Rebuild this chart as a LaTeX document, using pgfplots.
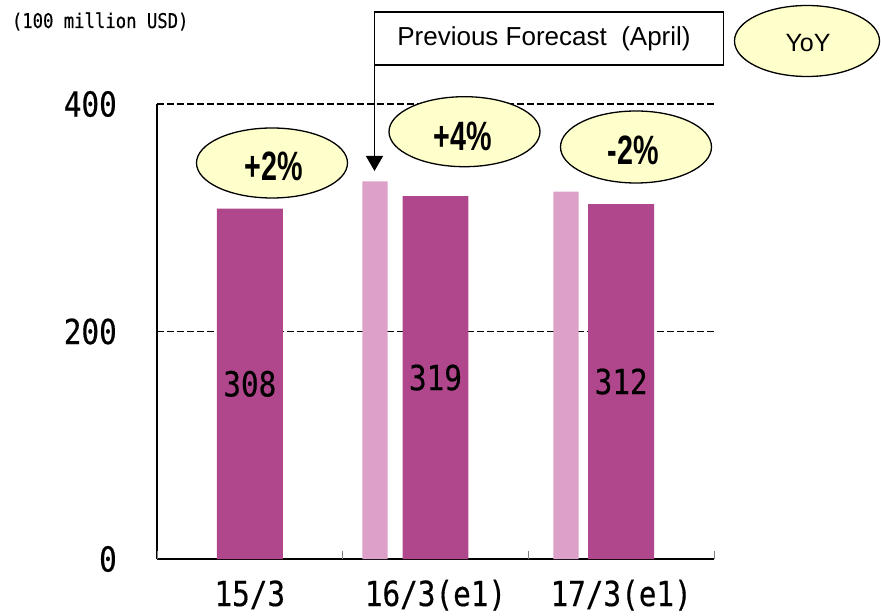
\documentclass[border=0pt]{standalone}
\usepackage{pgfplots}
\pgfplotsset{compat=1.18}
\usetikzlibrary{arrows.meta}
\usepackage{fontspec}
\setmainfont{Liberation Sans}
\newfontfamily\gfont[FakeStretch=0.85,FakeBold=0.4]{DejaVu Sans Mono}
\newfontfamily\pfont[FakeStretch=0.7]{Liberation Sans}
\definecolor{darkbar}{RGB}{176,71,140}
\definecolor{lightbar}{RGB}{221,160,200}
\definecolor{ellfill}{RGB}{255,255,204}
\newcommand{\gbig}{\gfont\fontsize{34.5bp}{40bp}\selectfont}
\newcommand{\pct}{\pfont\bfseries\fontsize{41bp}{48bp}\selectfont}
\begin{document}
\begin{tikzpicture}
\begin{axis}[
  scale only axis, width=557bp, height=455bp,
  xmin=-0.5, xmax=2.5, ymin=0, ymax=400,
  axis x line=bottom, axis y line=left,
  axis line style={-, line width=1.2bp, black},
  xtick={0,1,2}, xticklabels={15/3,16/3(e1),17/3(e1)},
  major tick length=0pt,
  xticklabel style={font=\gbig, anchor=base, yshift=-47bp, inner sep=0pt},
  ytick={0,200,400}, yticklabels={0,200,400},
  yticklabel style={font=\gbig, anchor=east, xshift=-40bp, inner sep=0pt},
  ymajorgrids, grid style={black, line width=1.6bp, dash pattern=on 7bp off 3bp},
  extra x ticks={-0.5,0.5,1.5,2.5}, extra x tick labels={},
  extra x tick style={major tick length=8bp, tick align=inside, xmajorgrids=false, tick style={gray, line width=0.8bp}},
  clip=false,
]
\addplot[ybar, bar width=0.355, bar shift=0pt, fill=darkbar, draw=none] coordinates {(0,308) (1,319) (2,312)};
\addplot[ybar, bar width=0.135, bar shift=0pt, fill=lightbar, draw=none] coordinates {(0.674,332) (1.703,323)};
\node[font=\gbig, inner sep=0pt] at (axis cs:0,154) {308};
\node[font=\gbig, inner sep=0pt] at (axis cs:1,159.5) {319};
\node[font=\gbig, inner sep=0pt] at (axis cs:2,156) {312};
\end{axis}
% annotations (bp relative to axis origin)
\node[anchor=base west, inner sep=0pt, font=\gfont\fontsize{20.3bp}{24bp}\selectfont] at (-145.3bp,531bp) {(100 million USD)};
\draw[line width=1.3bp, fill=ellfill] (115bp,396bp) ellipse [x radius=75.5bp, y radius=35bp];
\node[font=\pct, inner sep=0pt] at (117bp,393bp) {+2\%};
\draw[line width=1.3bp, fill=ellfill] (307.5bp,427.3bp) ellipse [x radius=75.5bp, y radius=35bp];
\node[font=\pct, inner sep=0pt] at (306bp,423bp) {+4\%};
\draw[line width=1.3bp, fill=ellfill] (479bp,412bp) ellipse [x radius=75.5bp, y radius=36bp];
\node[font=\pct, inner sep=0pt] at (476bp,409bp) {-2\%};
\draw[line width=1.3bp, fill=ellfill] (650bp,518bp) ellipse [x radius=72.5bp, y radius=35.5bp];
\node[font=\fontsize{25bp}{30bp}\selectfont, inner sep=0pt] at (651bp,516bp) {YoY};
\draw[line width=1.3bp, fill=white] (217.5bp,494bp) rectangle (566.8bp,547bp);
\node[font=\fontsize{26bp}{30bp}\selectfont, inner sep=0pt] at (387bp,520bp) {Previous Forecast\ \ (April)};
\draw[line width=1.3bp, -{Triangle[length=15bp,width=17bp]}] (217.5bp,494bp) -- (217.5bp,388bp);
\pgfresetboundingbox
\path[use as bounding box] (-157bp,-57bp) rectangle (724bp,559bp);
\end{tikzpicture}
\end{document}
